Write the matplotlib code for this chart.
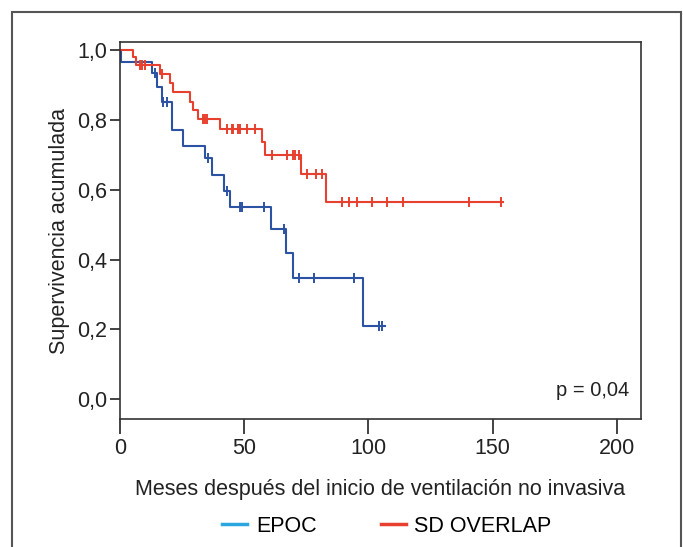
import numpy as np
import matplotlib
matplotlib.use("Agg")
import matplotlib.pyplot as plt
from matplotlib.patches import Rectangle
from matplotlib.lines import Line2D
from matplotlib.ticker import FuncFormatter

plt.rcParams['font.family'] = ['Liberation Sans', 'DejaVu Sans']

# EPOC (Kaplan-Meier steps)
epoc_t = [0, 0.5, 12.7, 14.8, 16.8, 20.8, 25.3, 34.2, 37.2, 42.0, 44.3, 60.8, 66.8, 69.5, 98.0, 106.5]
epoc_s = [1.0, 0.966, 0.932, 0.894, 0.851, 0.770, 0.725, 0.689, 0.642, 0.597, 0.549, 0.487, 0.419, 0.348, 0.210, 0.210]
epoc_cens = [14.1, 17.4, 18.8, 35.6, 42.9, 48.3, 49.0, 58.0, 66.0, 72.1, 78.2, 94.3, 104.4, 105.5]

# SD OVERLAP
ovl_t = [0, 5.4, 6.3, 16.1, 20.1, 21.2, 28.2, 29.3, 31.5, 40.3, 57.0, 58.2, 72.7, 82.9, 154.3]
ovl_s = [1.0, 0.978, 0.956, 0.930, 0.904, 0.878, 0.851, 0.827, 0.801, 0.772, 0.735, 0.698, 0.644, 0.565, 0.565]
ovl_cens = [8, 9, 10, 16.8, 33.3, 34.2, 35.2, 43, 45, 45.6, 47.6, 48.3, 51, 54.3, 61, 67.1, 69.8,
            70.4, 72.2, 75.1, 79.0, 81.2, 89.2, 92.2, 95.3, 101.3, 107.4, 114.0, 140.6, 153.3]

x_ticks = [0, 50, 100, 150, 200]
y_ticks = [0.0, 0.2, 0.4, 0.6, 0.8, 1.0]

blue_line = '#2b52a3'
red_line = '#e8402f'
blue_leg = '#2aa7df'
txt = '#222222'
fs = 15.5

W, H = 683, 547
fig = plt.figure(figsize=(W / 100, H / 100), dpi=100)
ax = fig.add_axes([120 / W, 1 - 419 / H, (641 - 120) / W, (419 - 42) / H])

def step_val(ts, ss, c):
    idx = np.searchsorted(ts, c, side='right') - 1
    return ss[idx]

for ts, ss, cs, col in [(epoc_t, epoc_s, epoc_cens, blue_line), (ovl_t, ovl_s, ovl_cens, red_line)]:
    ax.step(ts, ss, where='post', color=col, lw=1.5)
    cy = [step_val(np.array(ts), np.array(ss), c) for c in cs]
    ax.plot(cs, cy, linestyle='none', marker='|', markersize=7, mew=1.4, color=col)

ax.set_xlim(0, 209.7)
ax.set_ylim(-0.056, 1.022)
ax.set_xticks(x_ticks)
ax.set_yticks(y_ticks)
ax.yaxis.set_major_formatter(FuncFormatter(lambda v, p: f"{v:.1f}".replace('.', ',')))
ax.tick_params(axis='x', length=11, width=1.2, labelsize=fs, pad=3, colors=txt)
ax.tick_params(axis='y', length=7, width=1.2, labelsize=fs, pad=2, colors=txt)
for sp in ax.spines.values():
    sp.set_linewidth(1.2)
    sp.set_color('#333333')

ax.set_xlabel('Meses después del inicio de ventilación no invasiva', fontsize=fs, color=txt, labelpad=14)
ax.set_ylabel('Supervivencia acumulada', fontsize=fs, color=txt, labelpad=5)
ax.text(0.978, 0.075, 'p = 0,04', transform=ax.transAxes, ha='right', va='center', fontsize=fs - 1, color=txt)

handles = [Line2D([0], [0], color=blue_leg, lw=2.5), Line2D([0], [0], color=red_line, lw=2.5)]
fig.legend(handles, ['EPOC', 'SD OVERLAP'], loc='center', bbox_to_anchor=(387 / W, 1 - 526 / H),
           ncol=2, frameon=False, fontsize=fs, handlelength=1.15, columnspacing=3.0, handletextpad=0.4)

fig.add_artist(Rectangle((12 / W, -0.05), (681 - 12) / W, 1.05 - 12 / H, transform=fig.transFigure,
                         fill=False, edgecolor='#555555', lw=1.5))

fig.savefig('out.png', dpi=100)
